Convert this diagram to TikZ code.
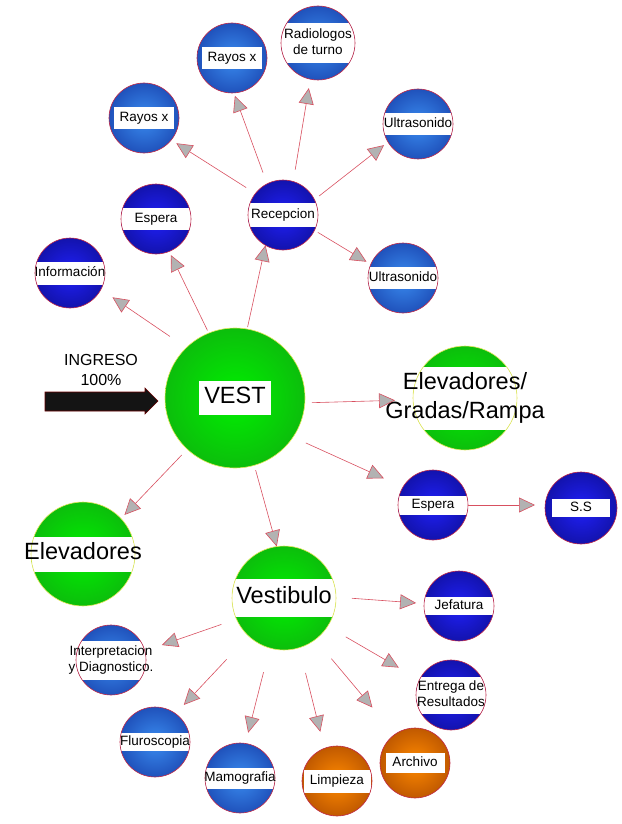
\documentclass[tikz,border=0pt]{standalone}
\usepackage{fontspec}
\setmainfont{Liberation Sans}
\usetikzlibrary{arrows.meta}

% Colores de las esferas
\definecolor{azulIn}{HTML}{3A8CF0}
\definecolor{azulOut}{HTML}{1234A0}
\definecolor{marinoIn}{HTML}{2020F8}
\definecolor{marinoOut}{HTML}{0C0C86}
\definecolor{verdeIn}{HTML}{00F000}
\definecolor{verdeOut}{HTML}{12A412}
\definecolor{naranjaIn}{HTML}{FF8A00}
\definecolor{naranjaOut}{HTML}{A04000}
\definecolor{bordeRojo}{HTML}{C02848}
\definecolor{lineaRoja}{HTML}{D85060}
\definecolor{bordeAmarillo}{HTML}{E6E65A}

\pgfdeclareradialshading{esferaAzul}{\pgfpoint{0bp}{0bp}}{color(0bp)=(azulIn); color(38bp)=(azulOut); color(50bp)=(azulOut)}
\pgfdeclareradialshading{esferaMarino}{\pgfpoint{0bp}{0bp}}{color(0bp)=(marinoIn); color(38bp)=(marinoOut); color(50bp)=(marinoOut)}
\pgfdeclareradialshading{esferaVerde}{\pgfpoint{0bp}{0bp}}{color(0bp)=(verdeIn); color(38bp)=(verdeOut); color(50bp)=(verdeOut)}
\pgfdeclareradialshading{esferaNaranja}{\pgfpoint{0bp}{0bp}}{color(0bp)=(naranjaIn); color(38bp)=(naranjaOut); color(50bp)=(naranjaOut)}

% Texto centrado que no agranda el circulo
\newcommand{\etiq}[1]{\makebox[0pt]{\begin{tabular}{@{}c@{}}#1\end{tabular}}}

\tikzset{banda alto/.store in=\bandaAlto, banda ancho/.store in=\bandaAncho,
  banda alto=22pt, banda ancho=300pt}

\begin{document}
\begin{tikzpicture}[x=1pt, y=-1pt,
    esfera/.style={circle, inner sep=0pt, outer sep=0pt, line width=0.6pt,
      path picture={\fill[white]
        ([xshift=-0.5*\bandaAncho, yshift=-0.5*\bandaAlto]path picture bounding box.center)
        rectangle ([xshift=0.5*\bandaAncho, yshift=0.5*\bandaAlto]path picture bounding box.center);}},
    chica/.style={minimum size=70pt, font=\fontsize{13.5}{16}\selectfont},
    mediana/.style={minimum size=104pt, font=\fontsize{23.5}{29}\selectfont},
    grande/.style={minimum size=140pt, font=\fontsize{23.5}{29}\selectfont},
    azul/.style={esfera, chica, shade, shading=esferaAzul, draw=bordeRojo},
    marino/.style={esfera, chica, shade, shading=esferaMarino, draw=bordeRojo},
    naranja/.style={esfera, chica, shade, shading=esferaNaranja, draw=bordeRojo},
    verde/.style={esfera, mediana, shade, shading=esferaVerde, draw=bordeAmarillo},
    flecha/.style={draw=lineaRoja, line width=0.6pt,
      -{Triangle[length=16pt, width=15pt, fill=gray!60]}}]

    \useasboundingbox (0,0) rectangle (621,824);

    % Ingreso
    \fill[black!92, draw=red!40!black, line width=0.6pt]
      (45,392) -- (145,392) -- (145,388) -- (158,401) -- (145,414) -- (145,411) -- (45,411) -- cycle;
    \node[font=\fontsize{16}{20}\selectfont, inner sep=0pt] (ingreso) at (101,371)
      {\begin{tabular}{@{}c@{}}INGRESO\\100\%\end{tabular}};

    % Nodo central
    \node[verde, grande, banda ancho=72pt, banda alto=34pt] (vest) at (235,398) {\etiq{VEST}};

    % Recepcion y sus destinos
    \node[marino, banda alto=24pt] (recep) at (283,215) {\etiq{Recepcion}};
    \node[azul, banda ancho=60pt] (rayos1) at (232,58) {\etiq{Rayos x}};
    \node[azul, banda ancho=60pt] (rayos2) at (144,118) {\etiq{Rayos x}};
    \node[azul, minimum size=74pt, banda alto=40pt] (radiol) at (318,43) {\etiq{Radiologos\\de turno}};
    \node[azul] (ultra1) at (418,124) {\etiq{Ultrasonido}};
    \node[azul] (ultra2) at (403,278) {\etiq{Ultrasonido}};

    % Alrededor del nodo central
    \node[marino, banda alto=23pt] (info) at (70,273) {\etiq{Información}};
    \node[marino] (espera1) at (156,219) {\etiq{Espera}};
    \node[verde, banda alto=63pt] (elevgr) at (465,398) {\etiq{Elevadores/\\Gradas/Rampa}};
    \node[marino, banda alto=19pt] (espera2) at (433,505) {\etiq{Espera}};
    \node[marino, minimum size=72pt, banda ancho=58pt, banda alto=18pt] (ss) at (581,508) {\etiq{S.S}};
    \node[verde, banda alto=35pt] (elev) at (83,554) {\etiq{Elevadores}};
    \node[verde, banda alto=38pt] (vestib) at (284,598) {\etiq{Vestibulo}};

    % Destinos del vestibulo
    \node[marino, banda alto=18pt] (jefat) at (459,606) {\etiq{Jefatura}};
    \node[marino, banda alto=37pt] (entrega) at (451,695) {\etiq{Entrega de\\Resultados}};
    \node[naranja, banda ancho=59pt, banda alto=20pt] (archivo) at (415,763) {\etiq{Archivo}};
    \node[naranja, banda ancho=67pt, banda alto=23pt] (limp) at (337,781) {\etiq{Limpieza}};
    \node[azul, banda alto=21pt] (mamo) at (240,778) {\etiq{Mamografia}};
    \node[azul, banda alto=18pt] (fluro) at (155,742) {\etiq{Fluroscopia}};
    \node[azul, banda alto=39pt] (interp) at (111,660) {\etiq{Interpretacion\\y Diagnostico.}};

    % Flechas desde VEST
    \draw[flecha, shorten <=20pt, shorten >=14pt] (vest.134) -- (info.-28);
    \draw[flecha, shorten <=3pt, shorten >=4pt] (vest.112) -- (espera1.-68);
    \draw[flecha, shorten <=2pt] (vest.80) -- (recep.-120);
    \draw[flecha, shorten <=7pt, shorten >=18pt] (vest.-4) -- (elevgr.182);
    \draw[flecha, shorten <=14pt, shorten >=21pt] (vest.-34) -- (espera2.149);
    \draw[flecha, shorten <=8pt, shorten >=5pt] (vest.-133) -- (elev.43);
    \draw[flecha, shorten <=5pt] (vest.-74) -- (vestib.98);

    % Flechas desde Recepcion
    \draw[flecha, shorten <=11pt, shorten >=6pt] (recep.142) -- (rayos2.-39);
    \draw[flecha, shorten <=12pt, shorten >=3pt] (recep.117) -- (rayos1.-87);
    \draw[flecha, shorten <=12pt, shorten >=9pt] (recep.73) -- (radiol.-102);
    \draw[flecha, shorten <=6pt, shorten >=5pt] (recep.26) -- (ultra1.-149);
    \draw[flecha, shorten <=4pt, shorten >=5pt] (recep.-26) -- (ultra2.157);

    % Espera a S.S
    \draw[flecha, shorten >=10pt] (espera2.east) -- (espera2.east -| ss.west);

    % Flechas desde el vestibulo
    \draw[flecha, shorten <=16pt, shorten >=8pt] (vestib.1) -- (jefat.176);
    \draw[flecha, shorten <=21pt, shorten >=24pt] (vestib.-33) -- (entrega.154);
    \draw[flecha, shorten <=25pt, shorten >=35pt] (vestib.-53) -- (archivo.125);
    \draw[flecha, shorten <=26pt, shorten >=17pt] (vestib.-73) -- (limp.111);
    \draw[flecha, shorten <=25pt, shorten >=11pt] (vestib.-106) -- (mamo.81);
    \draw[flecha, shorten <=32pt, shorten >=12pt] (vestib.-133) -- (fluro.54);
    \draw[flecha, shorten <=16pt, shorten >=18pt] (vestib.-156) -- (interp.15);
  \end{tikzpicture}
\end{document}
